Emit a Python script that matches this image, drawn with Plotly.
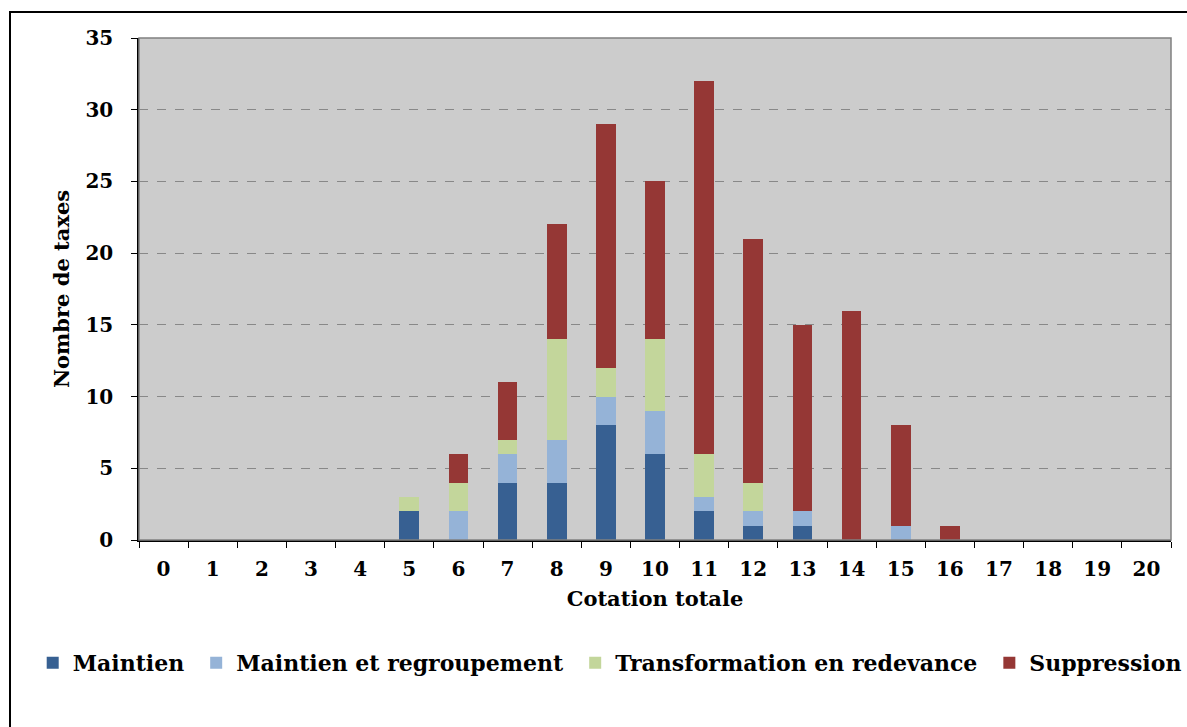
import plotly.graph_objects as go

# Cotation totale (0 à 20)
cotations = [str(i) for i in range(21)]

# Nombre de taxes par cotation et par recommandation
maintien =        [0, 0, 0, 0, 0, 2, 0, 4, 4, 8, 6, 2, 1, 1, 0, 0, 0, 0, 0, 0, 0]
maintien_regr =   [0, 0, 0, 0, 0, 0, 2, 2, 3, 2, 3, 1, 1, 1, 0, 1, 0, 0, 0, 0, 0]
transformation =  [0, 0, 0, 0, 0, 1, 2, 1, 7, 2, 5, 3, 2, 0, 0, 0, 0, 0, 0, 0, 0]
suppression =     [0, 0, 0, 0, 0, 0, 2, 4, 8, 17, 11, 26, 17, 13, 16, 7, 1, 0, 0, 0, 0]

series = [
    ("Maintien", maintien, "#376092"),
    ("Maintien et regroupement", maintien_regr, "#95B3D7"),
    ("Transformation en redevance", transformation, "#C3D69B"),
    ("Suppression", suppression, "#953735"),
]

FONT = "DejaVu Serif"
TICK_SIZE = 20
TITLE_SIZE = 21
LEGEND_SIZE = 22

fig = go.Figure()
for i, (name, vals, color) in enumerate(series):
    # a trailing non-breaking space widens the gap between legend entries
    pad = "\u00a0" if i < len(series) - 1 else ""
    fig.add_trace(go.Bar(
        x=cotations, y=vals, name=f"<b>{name}</b>{pad}",
        marker=dict(color=color, line=dict(width=0)),
    ))

fig.update_layout(
    barmode="stack",
    bargap=0.6,
    width=1187, height=727,
    margin=dict(l=139, r=16, t=38, b=187, autoexpand=False),
    paper_bgcolor="white",
    plot_bgcolor="#CCCCCC",
    font=dict(family=FONT, size=TICK_SIZE, color="black"),
    showlegend=True,
    legend=dict(
        orientation="h", x=-0.103, xanchor="left",
        y=(540 - 663) / 502, yanchor="middle",
        font=dict(family=FONT, size=LEGEND_SIZE, color="black"),
        traceorder="normal", itemwidth=30,
    ),
    xaxis=dict(
        type="category",
        tickson="boundaries",
        ticks="outside", ticklen=6, tickcolor="black",
        ticklabelstandoff=10,
        showline=True, linecolor="black", linewidth=1.5,
        showgrid=False,
        tickvals=cotations, ticktext=[f"<b>{c}</b>" for c in cotations],
        tickfont=dict(family=FONT, size=TICK_SIZE, color="black"),
        tickangle=0,
        title=dict(text="<b>Cotation totale</b>", font=dict(family=FONT, size=TITLE_SIZE), standoff=12),
    ),
    yaxis=dict(
        range=[0, 35],
        tickvals=list(range(0, 36, 5)), ticktext=[f"<b>{v}</b>" for v in range(0, 36, 5)],
        ticks="outside", ticklen=6, tickcolor="black",
        ticklabelstandoff=14,
        showline=True, linecolor="black", linewidth=1.5,
        showgrid=True, gridcolor="#888888", griddash="dash", gridwidth=1.3,
        zeroline=False,
        tickfont=dict(family=FONT, size=TICK_SIZE, color="black"),
        title=dict(text="<b>Nombre de taxes</b>", font=dict(family=FONT, size=TITLE_SIZE), standoff=10),
    ),
)

# Plot-area outline on top/right and outer chart frame
fig.add_shape(type="rect", xref="paper", yref="paper", x0=0, x1=1, y0=0, y1=1,
              line=dict(color="#808080", width=1.5), layer="above")
fig.add_shape(type="rect", xref="paper", yref="paper",
              x0=(10 - 139) / 1032, x1=1.2, y0=-0.5, y1=(540 - 12) / 502,
              line=dict(color="black", width=2), layer="below")

fig.write_html("out.html")
